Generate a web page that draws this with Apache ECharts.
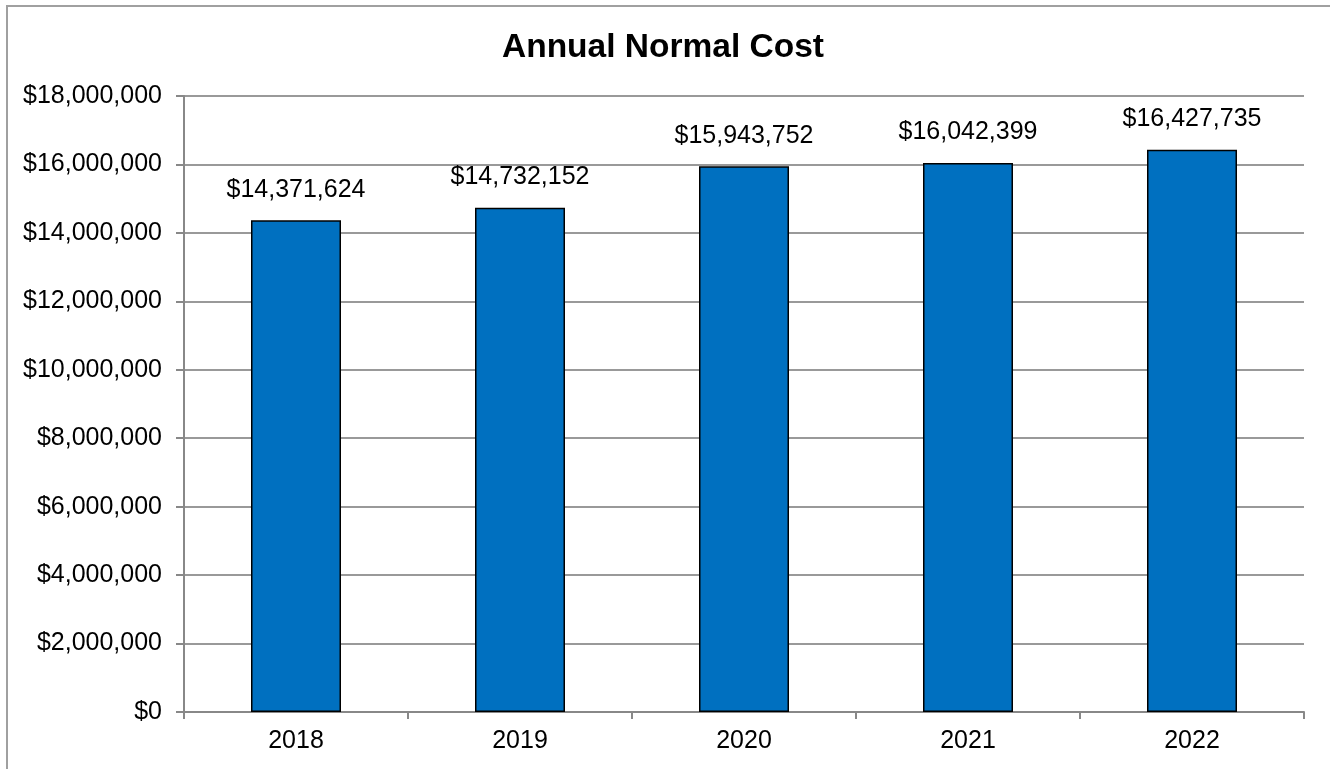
<!DOCTYPE html>
<html><head><meta charset="utf-8">
<script src="https://cdn.jsdelivr.net/npm/echarts@6/dist/echarts.min.js"></script>
<style>html,body{margin:0;padding:0;background:#fff}#c{width:1330px;height:769px;position:relative}
#frame{position:absolute;left:6px;top:5px;width:1400px;height:900px;border:2px solid #a0a0a0;box-sizing:border-box;pointer-events:none}
body{overflow:hidden}</style>
</head><body><div id="c"></div><div id="frame"></div>
<script>
const titleText = 'Annual Normal Cost';
const categories = ['2018','2019','2020','2021','2022'];
const values = [14371624, 14732152, 15943752, 16042399, 16427735];
const yMin = 0, yMax = 18000000, yInterval = 2000000;

function money(v){ return '$' + Math.round(v).toString().replace(/\B(?=(\d{3})+(?!\d))/g, ','); }

const chart = echarts.init(document.getElementById('c'), null, {renderer:'canvas'});
const font = 'Liberation Sans, Arial, sans-serif';
chart.setOption({
  animation:false,
  backgroundColor:'#fff',
  title:{text:titleText,left:497,top:26,textStyle:{fontFamily:font,fontSize:33.5,fontWeight:'bold',color:'#000'}},
  grid:{left:184,right:26,top:96,bottom:57,containLabel:false},
  xAxis:{type:'category',data:categories,boundaryGap:true,
    axisLine:{lineStyle:{color:'#888',width:2}},
    axisTick:{show:true,length:7,lineStyle:{color:'#888',width:2},alignWithLabel:false},
    axisLabel:{fontFamily:font,fontSize:25,color:'#000',margin:17}},
  yAxis:{type:'value',min:yMin,max:yMax,interval:yInterval,
    axisLine:{show:true,lineStyle:{color:'#888',width:2}},
    axisTick:{show:true,length:8,lineStyle:{color:'#888',width:2}},
    splitLine:{show:true,lineStyle:{color:'#999',width:2}},
    axisLabel:{fontFamily:font,fontSize:25,color:'#000',margin:22,formatter:money}},
  series:[{type:'bar',data:values,barWidth:90,
    itemStyle:{color:'#0070C0',borderColor:'#000',borderWidth:1.5},
    label:{show:true,position:'top',distance:18,fontFamily:font,fontSize:25,color:'#000',formatter:p=>money(p.value)}}]
});
</script></body></html>
